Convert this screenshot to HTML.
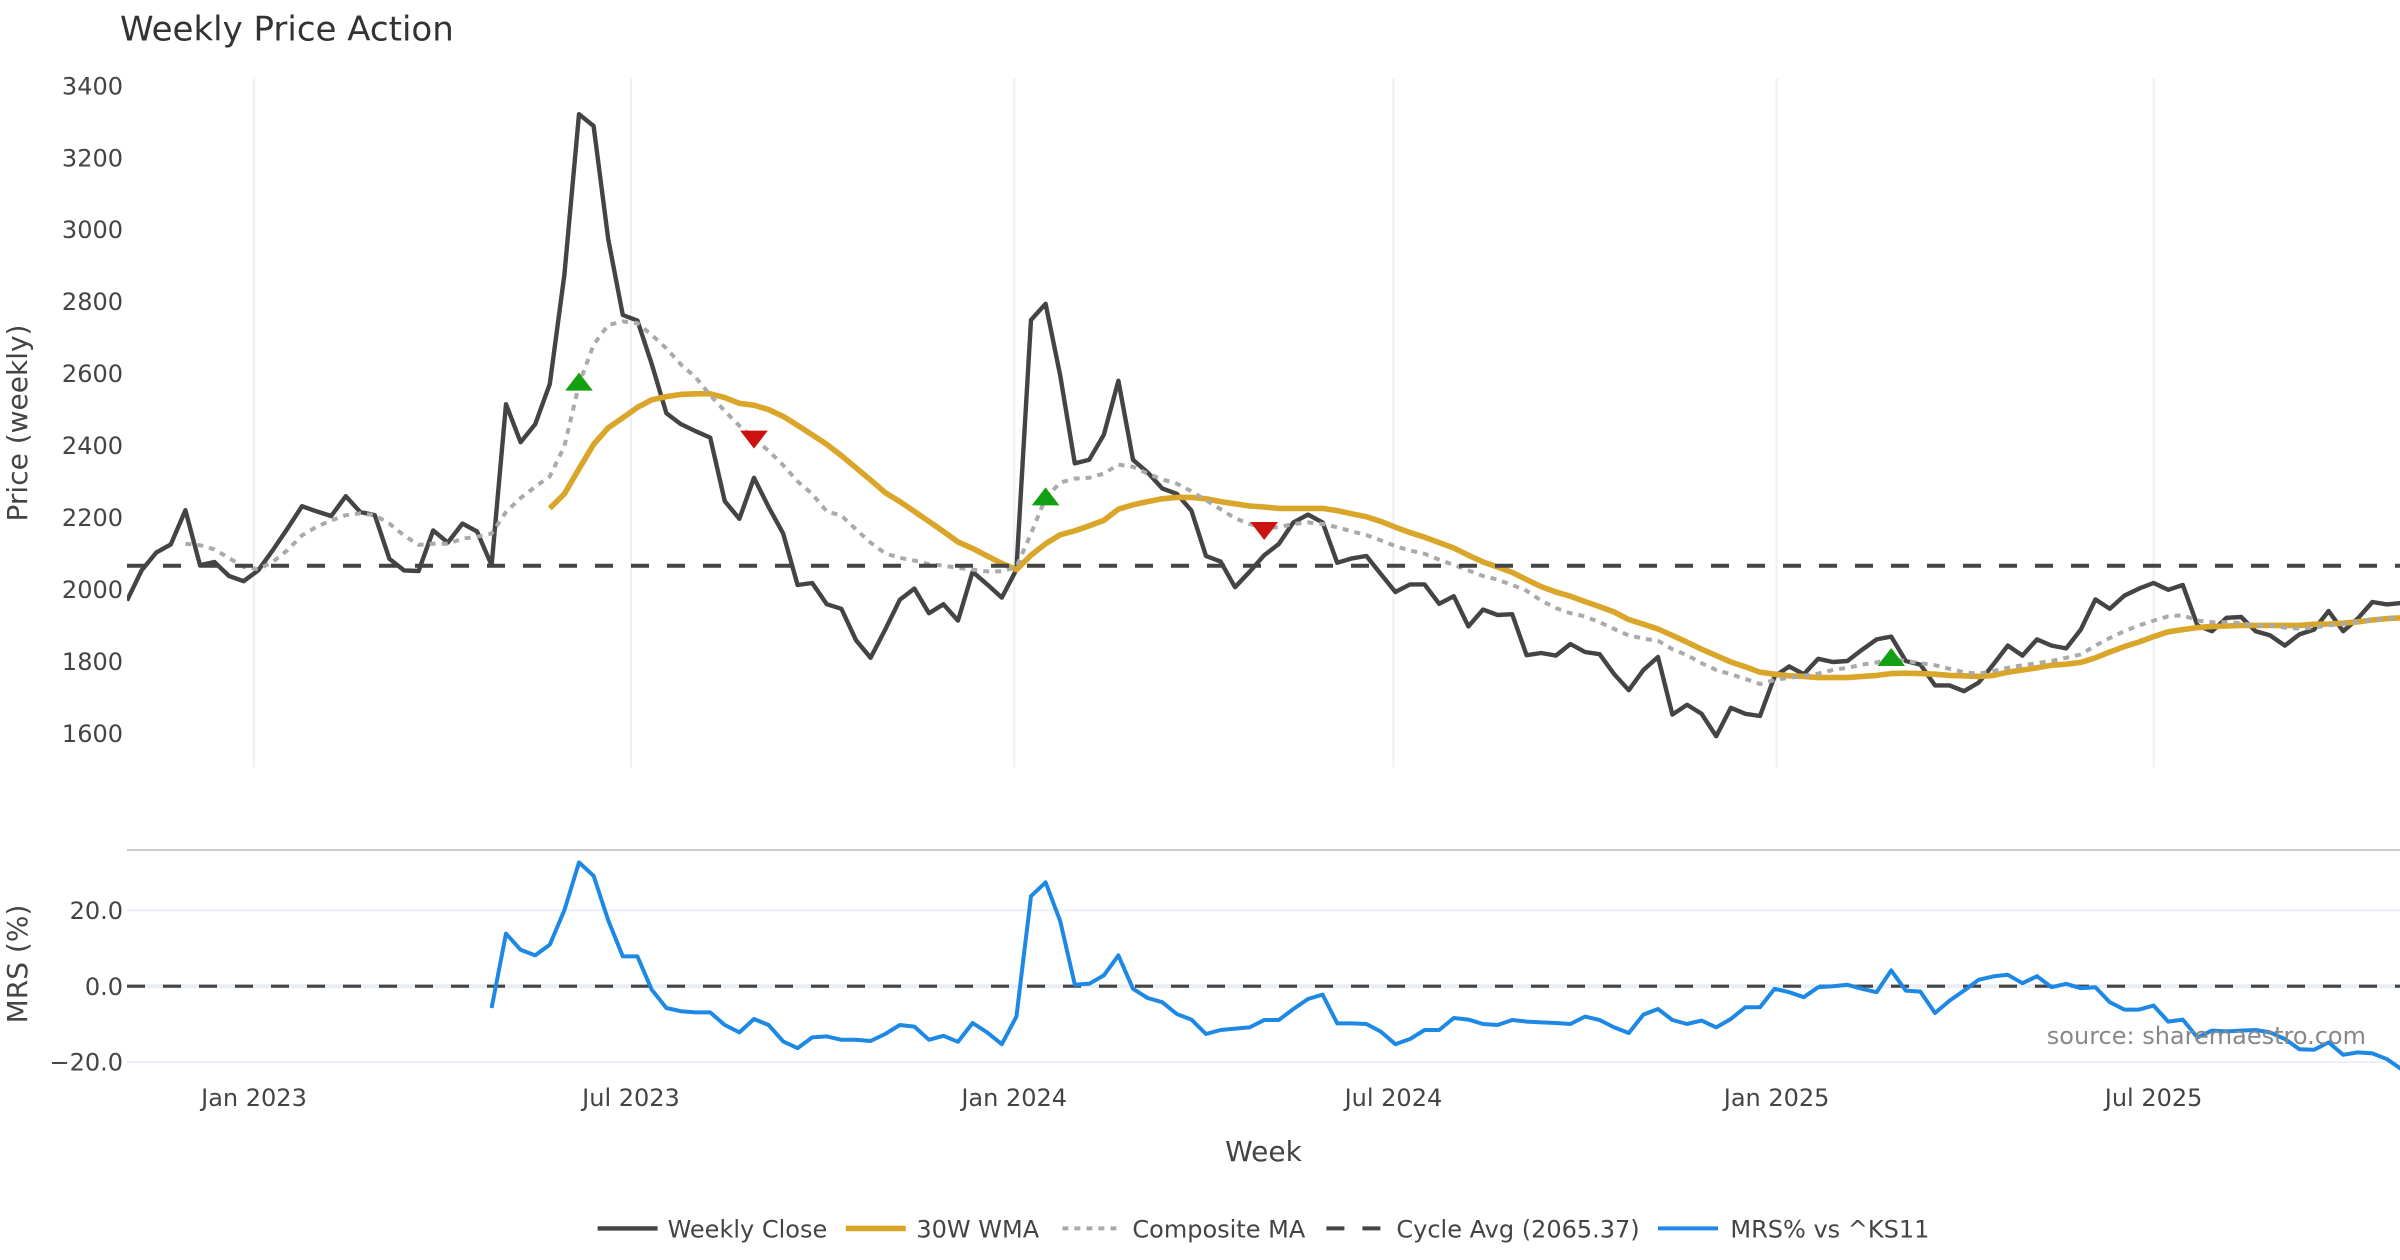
<!DOCTYPE html>
<html>
<head>
<meta charset="utf-8">
<style>
html,body{margin:0;padding:0;background:#fff;}
svg{display:block;}
text{font-family:"DejaVu Sans","Liberation Sans",sans-serif;}
</style>
</head>
<body>
<svg width="2400" height="1260" viewBox="0 0 1200 630" xmlns="http://www.w3.org/2000/svg">
<rect x="0" y="0" width="1200" height="630" fill="#ffffff"/>
<defs>
<clipPath id="cp1"><rect x="63.5" y="39.3" width="1136.5" height="344.4"/></clipPath>
<clipPath id="cp2"><rect x="63.5" y="425" width="1136.5" height="114"/></clipPath>
</defs>

<!-- price pane vertical gridlines -->
<g stroke="#EBF0F8" stroke-width="1">
<line x1="127.0" y1="39.3" x2="127.0" y2="383.7"/>
<line x1="315.5" y1="39.3" x2="315.5" y2="383.7"/>
<line x1="507.1" y1="39.3" x2="507.1" y2="383.7"/>
<line x1="696.7" y1="39.3" x2="696.7" y2="383.7"/>
<line x1="888.3" y1="39.3" x2="888.3" y2="383.7"/>
<line x1="1076.8" y1="39.3" x2="1076.8" y2="383.7"/>
</g>

<!-- MRS pane gridlines -->
<g stroke="#EBF0F8" stroke-width="1">
<line x1="63.5" y1="455.1" x2="1200" y2="455.1"/>
<line x1="63.5" y1="531.0" x2="1200" y2="531.0"/>
</g>
<line x1="63.5" y1="493.1" x2="1200" y2="493.1" stroke="#EBF0F8" stroke-width="2"/>

<!-- divider -->
<line x1="63.5" y1="425" x2="1200" y2="425" stroke="#cccccc" stroke-width="1"/>

<g clip-path="url(#cp1)" fill="none" stroke-linejoin="round">
<!-- Weekly Close -->
<polyline stroke="#444444" stroke-width="2.2" points="63.5,300.3 70.8,285.2 78.1,276.3 85.4,272.2 92.7,255.1 100.0,282.6 107.2,281.0 114.5,288.0 121.8,290.6 129.1,285.2 136.4,275.1 143.7,264.3 151.0,253.1 158.3,255.7 165.6,258.0 172.9,248.1 180.1,256.0 187.4,257.6 194.7,279.4 202.0,285.2 209.3,285.5 216.6,265.2 223.9,271.3 231.2,261.8 238.5,265.7 245.8,282.6 253.0,202.1 260.3,221.1 267.6,212.1 274.9,192.0 282.2,137.3 289.5,57.1 296.8,63.0 304.1,119.5 311.4,157.5 318.7,160.3 325.9,182.1 333.2,206.6 340.5,212.1 347.8,215.6 355.1,218.8 362.4,250.6 369.7,259.4 377.0,238.9 384.3,253.5 391.6,266.8 398.8,292.5 406.1,291.5 413.4,302.1 420.7,304.4 428.0,320.1 435.3,328.9 442.6,314.8 449.9,299.9 457.2,294.3 464.5,306.6 471.7,302.1 479.0,310.3 486.3,285.9 493.6,292.2 500.9,298.8 508.2,284.8 515.5,160.0 522.8,151.9 530.1,187.7 537.4,231.7 544.6,229.9 551.9,217.4 559.2,190.4 566.5,229.9 573.8,236.2 581.1,244.2 588.4,246.9 595.7,255.3 603.0,278.0 610.3,280.8 617.5,293.6 624.8,285.9 632.1,277.6 639.4,272.0 646.7,261.2 654.0,257.3 661.3,261.2 668.6,281.4 675.9,279.2 683.2,278.0 690.4,287.0 697.7,296.0 705.0,292.2 712.3,292.2 719.6,301.9 726.9,298.1 734.2,313.2 741.5,304.8 748.8,307.5 756.1,307.1 763.3,327.6 770.6,326.5 777.9,327.8 785.2,322.0 792.5,326.0 799.8,327.1 807.1,337.1 814.4,345.1 821.7,335.0 829.0,328.5 836.2,357.3 843.5,352.4 850.8,356.9 858.1,368.1 865.4,353.9 872.7,356.9 880.0,358.0 887.3,338.2 894.6,333.2 901.9,337.1 909.1,329.4 916.4,331.0 923.7,330.5 931.0,324.9 938.3,319.7 945.6,318.3 952.9,330.5 960.2,332.3 967.5,342.7 974.8,342.7 982.0,345.6 989.3,341.3 996.6,332.3 1003.9,322.8 1011.2,327.8 1018.5,319.7 1025.8,322.8 1033.1,324.2 1040.4,314.8 1047.7,299.7 1054.9,304.4 1062.2,297.8 1069.5,294.3 1076.8,291.5 1084.1,294.9 1091.4,292.5 1098.7,312.7 1106.0,315.6 1113.3,308.9 1120.6,308.5 1127.8,315.6 1135.1,317.7 1142.4,322.8 1149.7,317.2 1157.0,314.8 1164.3,305.5 1171.6,315.6 1178.9,309.3 1186.2,301.0 1193.5,302.2 1200.7,301.5"/>
<!-- 30W WMA -->
<polyline stroke="#D9A62A" stroke-width="2.8" points="274.9,254.2 282.2,246.9 289.5,234.4 296.8,222.2 304.1,213.9 311.4,208.9 318.7,203.7 325.9,199.9 333.2,198.3 340.5,197.2 347.8,196.9 355.1,196.9 362.4,198.8 369.7,201.7 377.0,202.6 384.3,204.8 391.6,208.2 398.8,212.7 406.1,217.4 413.4,222.2 420.7,227.8 428.0,233.9 435.3,240.0 442.6,246.3 449.9,250.8 457.2,255.7 464.5,260.7 471.7,265.7 479.0,271.0 486.3,274.2 493.6,278.0 500.9,281.7 508.2,284.8 515.5,277.6 522.8,271.9 530.1,267.4 537.4,265.4 544.6,262.9 551.9,260.2 559.2,254.6 566.5,252.4 573.8,250.8 581.1,249.4 588.4,248.7 595.7,248.7 603.0,249.4 610.3,250.8 617.5,251.9 624.8,253.0 632.1,253.5 639.4,254.2 646.7,254.2 654.0,254.2 661.3,254.2 668.6,255.3 675.9,256.9 683.2,258.4 690.4,260.7 697.7,263.6 705.0,266.3 712.3,268.6 719.6,271.3 726.9,274.0 734.2,277.6 741.5,281.0 748.8,283.5 756.1,286.2 763.3,289.8 770.6,293.3 777.9,296.0 785.2,298.1 792.5,300.8 799.8,303.3 807.1,306.0 814.4,309.8 821.7,312.1 829.0,314.5 836.2,317.7 843.5,321.1 850.8,324.6 858.1,327.8 865.4,331.0 872.7,333.4 880.0,336.1 887.3,337.1 894.6,337.9 901.9,338.2 909.1,338.8 916.4,338.8 923.7,338.8 931.0,338.2 938.3,337.7 945.6,336.8 952.9,336.6 960.2,336.8 967.5,337.1 974.8,337.7 982.0,337.9 989.3,338.2 996.6,337.7 1003.9,336.1 1011.2,335.0 1018.5,333.9 1025.8,332.6 1033.1,332.1 1040.4,331.2 1047.7,328.9 1054.9,326.0 1062.2,323.3 1069.5,321.0 1076.8,318.3 1084.1,315.9 1091.4,314.8 1098.7,313.8 1106.0,313.2 1113.3,313.0 1120.6,312.7 1127.8,312.7 1135.1,312.7 1142.4,312.7 1149.7,312.7 1157.0,312.1 1164.3,312.0 1171.6,311.6 1178.9,310.9 1186.2,310.0 1193.5,309.3 1200.7,308.9"/>
<!-- Composite MA -->
<polyline stroke="#AAAAAA" stroke-width="2" stroke-dasharray="3,3" stroke-linejoin="miter" points="92.7,271.9 100.0,272.6 107.2,274.7 114.5,279.0 121.8,283.5 129.1,284.6 136.4,281.0 143.7,275.1 151.0,267.7 158.3,263.4 165.6,260.2 172.9,257.6 180.1,256.7 187.4,257.6 194.7,261.8 202.0,267.7 209.3,272.4 216.6,271.9 223.9,271.9 231.2,269.3 238.5,268.4 245.8,266.8 253.0,256.0 260.3,249.0 267.6,243.4 274.9,238.2 282.2,223.1 289.5,192.2 296.8,172.4 304.1,162.5 311.4,160.7 318.7,161.6 325.9,167.5 333.2,174.2 340.5,182.3 347.8,188.6 355.1,197.6 362.4,205.5 369.7,212.9 377.0,219.2 384.3,225.4 391.6,232.6 398.8,240.7 406.1,247.0 413.4,255.7 420.7,257.8 428.0,264.7 435.3,271.3 442.6,276.7 449.9,278.9 457.2,280.3 464.5,282.1 471.7,282.8 479.0,283.9 486.3,284.8 493.6,285.7 500.9,285.7 508.2,283.5 515.5,266.8 522.8,249.0 530.1,241.3 537.4,239.3 544.6,238.9 551.9,236.8 559.2,232.3 566.5,233.4 573.8,236.8 581.1,239.7 588.4,241.8 595.7,245.6 603.0,250.1 610.3,254.6 617.5,259.1 624.8,262.0 632.1,264.1 639.4,263.6 646.7,262.0 654.0,261.2 661.3,262.0 668.6,263.6 675.9,265.7 683.2,267.5 690.4,270.2 697.7,273.1 705.0,275.3 712.3,276.9 719.6,279.8 726.9,282.5 734.2,285.2 741.5,288.0 748.8,289.8 756.1,292.5 763.3,295.4 770.6,300.3 777.9,304.0 785.2,306.6 792.5,308.2 799.8,311.1 807.1,314.5 814.4,317.7 821.7,319.3 829.0,320.4 836.2,324.6 843.5,327.6 850.8,331.6 858.1,335.0 865.4,337.1 872.7,339.5 880.0,342.0 887.3,340.0 894.6,338.9 901.9,337.9 909.1,336.8 916.4,335.0 923.7,333.9 931.0,332.3 938.3,331.2 945.6,329.4 952.9,330.5 960.2,331.6 967.5,332.6 974.8,334.4 982.0,336.1 989.3,336.8 996.6,335.5 1003.9,333.9 1011.2,332.6 1018.5,331.6 1025.8,330.5 1033.1,328.9 1040.4,327.2 1047.7,322.8 1054.9,319.0 1062.2,315.6 1069.5,312.7 1076.8,310.3 1084.1,308.2 1091.4,307.6 1098.7,310.3 1106.0,311.1 1113.3,311.1 1120.6,311.6 1127.8,312.7 1135.1,312.7 1142.4,313.8 1149.7,314.3 1157.0,313.8 1164.3,312.7 1171.6,312.0 1178.9,310.9 1186.2,310.0 1193.5,309.3 1200.7,308.2"/>
<!-- Cycle Avg -->
<line x1="63.5" y1="282.9" x2="1200" y2="282.9" stroke="#444444" stroke-width="2" stroke-dasharray="9,9"/>
</g>

<!-- markers -->
<g stroke="none">
<polygon fill="#12A012" points="282.57,195.3 296.43,195.3 289.5,186.3"/>
<polygon fill="#CC1111" points="370.07,215.3 383.93,215.3 377.0,224.3"/>
<polygon fill="#12A012" points="515.87,252.7 529.73,252.7 522.8,243.7"/>
<polygon fill="#CC1111" points="625.17,261.0 639.03,261.0 632.1,270.0"/>
<polygon fill="#12A012" points="938.67,333.0 952.53,333.0 945.6,324.0"/>
</g>

<!-- MRS pane -->
<g clip-path="url(#cp2)" fill="none" stroke-linejoin="round">
<line x1="63.5" y1="493.1" x2="1200" y2="493.1" stroke="#444444" stroke-width="1.6" stroke-dasharray="9,9"/>
<polyline stroke="#1E88E5" stroke-width="2" points="245.8,504.0 253.0,466.8 260.3,474.9 267.6,477.7 274.9,472.3 282.2,455.1 289.5,431.2 296.8,437.9 304.1,460.1 311.4,478.2 318.7,478.2 325.9,494.9 333.2,504.0 340.5,505.6 347.8,506.2 355.1,506.2 362.4,512.5 369.7,516.2 377.0,509.5 384.3,512.5 391.6,520.7 398.8,524.1 406.1,518.7 413.4,518.2 420.7,519.9 428.0,519.9 435.3,520.5 442.6,517.0 449.9,512.5 457.2,513.3 464.5,519.9 471.7,517.9 479.0,520.9 486.3,511.5 493.6,516.2 500.9,522.1 508.2,508.3 515.5,448.1 522.8,441.2 530.1,460.5 537.4,492.3 544.6,491.9 551.9,487.7 559.2,477.7 566.5,494.4 573.8,499.0 581.1,501.1 588.4,507.0 595.7,509.8 603.0,517.0 610.3,515.0 617.5,514.3 624.8,513.7 632.1,510.0 639.4,510.0 646.7,504.5 654.0,499.5 661.3,497.3 668.6,511.7 675.9,511.7 683.2,512.0 690.4,515.8 697.7,522.1 705.0,519.5 712.3,515.0 719.6,515.0 726.9,509.0 734.2,509.8 741.5,512.0 748.8,512.5 756.1,510.0 763.3,510.8 770.6,511.2 777.9,511.5 785.2,512.0 792.5,508.3 799.8,510.0 807.1,513.7 814.4,516.5 821.7,507.3 829.0,504.5 836.2,510.0 843.5,512.0 850.8,510.3 858.1,513.7 865.4,509.5 872.7,503.6 880.0,503.6 887.3,494.4 894.6,496.1 901.9,498.6 909.1,493.6 916.4,493.1 923.7,492.4 931.0,494.4 938.3,496.1 945.6,485.2 952.9,495.3 960.2,495.8 967.5,506.5 974.8,500.3 982.0,495.3 989.3,489.9 996.6,488.2 1003.9,487.4 1011.2,491.6 1018.5,488.1 1025.8,493.6 1033.1,491.9 1040.4,494.1 1047.7,493.6 1054.9,501.1 1062.2,504.8 1069.5,504.8 1076.8,502.8 1084.1,510.8 1091.4,509.8 1098.7,518.7 1106.0,515.3 1113.3,515.7 1120.6,515.3 1127.8,515.0 1135.1,516.2 1142.4,519.5 1149.7,524.6 1157.0,524.9 1164.3,521.2 1171.6,527.4 1178.9,526.2 1186.2,526.7 1193.5,529.6 1200.7,534.6"/>
</g>

<!-- source annotation -->
<text x="1183" y="522" font-size="12" fill="#888888" text-anchor="end">source: sharemaestro.com</text>

<!-- title -->
<text x="60" y="20.3" font-size="17" fill="#333333">Weekly Price Action</text>

<!-- price y ticks -->
<g font-size="12" fill="#444444" text-anchor="end">
<text x="61.5" y="47.2">3400</text>
<text x="61.5" y="83.2">3200</text>
<text x="61.5" y="119.1">3000</text>
<text x="61.5" y="155.1">2800</text>
<text x="61.5" y="191.1">2600</text>
<text x="61.5" y="227.1">2400</text>
<text x="61.5" y="263.0">2200</text>
<text x="61.5" y="299.0">2000</text>
<text x="61.5" y="335.0">1800</text>
<text x="61.5" y="371.0">1600</text>
<text x="61.5" y="459.4">20.0</text>
<text x="61.5" y="497.4">0.0</text>
<text x="61.5" y="535.3">−20.0</text>
</g>

<!-- x ticks -->
<g font-size="12" fill="#444444" text-anchor="middle">
<text x="127.0" y="553">Jan 2023</text>
<text x="315.5" y="553">Jul 2023</text>
<text x="507.1" y="553">Jan 2024</text>
<text x="696.7" y="553">Jul 2024</text>
<text x="888.3" y="553">Jan 2025</text>
<text x="1076.8" y="553">Jul 2025</text>
</g>

<!-- axis titles -->
<text x="631.75" y="580.6" font-size="14" fill="#444444" text-anchor="middle">Week</text>
<text transform="translate(13.5,211.5) rotate(-90)" font-size="14" fill="#444444" text-anchor="middle">Price (weekly)</text>
<text transform="translate(13.5,482) rotate(-90)" font-size="14" fill="#444444" text-anchor="middle">MRS (%)</text>

<!-- legend -->
<g fill="none">
<line x1="298.8" y1="614.2" x2="328.8" y2="614.2" stroke="#444444" stroke-width="2.2"/>
<line x1="422.9" y1="614.2" x2="452.9" y2="614.2" stroke="#D9A62A" stroke-width="2.8"/>
<line x1="531.2" y1="614.2" x2="561.2" y2="614.2" stroke="#AAAAAA" stroke-width="2" stroke-dasharray="3,3"/>
<line x1="663.2" y1="614.2" x2="693.2" y2="614.2" stroke="#444444" stroke-width="2" stroke-dasharray="9,9"/>
<line x1="829" y1="614.2" x2="859" y2="614.2" stroke="#1E88E5" stroke-width="2"/>
</g>
<g font-size="12" fill="#444444">
<text x="333.8" y="618.7">Weekly Close</text>
<text x="458.2" y="618.7">30W WMA</text>
<text x="566.2" y="618.7">Composite MA</text>
<text x="698.2" y="618.7">Cycle Avg (2065.37)</text>
<text x="865.2" y="618.7">MRS% vs ^KS11</text>
</g>
</svg>
</body>
</html>
